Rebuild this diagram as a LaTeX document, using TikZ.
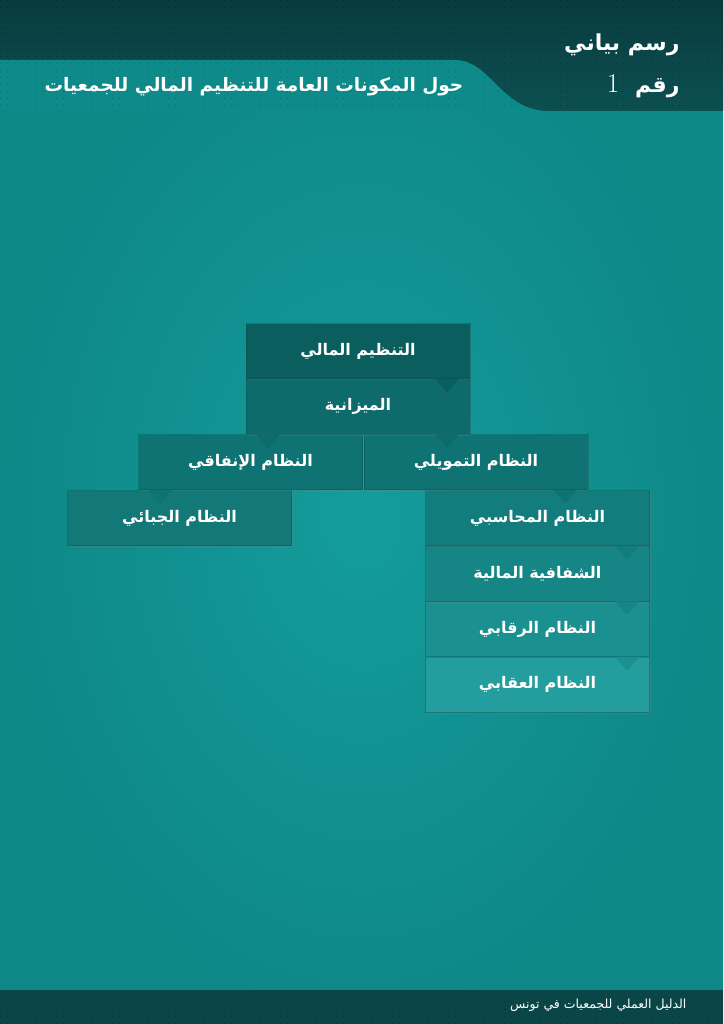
\documentclass[tikz,border=0pt]{standalone}
\usepackage{fontspec}
\newfontfamily\arabicfont[Script=Arabic]{DejaVu Sans}
\TeXXeTstate=1
\usetikzlibrary{patterns,calc,shadows}
\pgfdeclarepatternformonly{sparsedots}{\pgfpointorigin}{\pgfqpoint{7pt}{7pt}}{\pgfqpoint{7pt}{7pt}}{\pgfpathcircle{\pgfqpoint{2pt}{2pt}}{0.7pt}\pgfusepath{fill}}
\definecolor{hdarkA}{HTML}{093B3E}
\definecolor{hdarkB}{HTML}{0C5052}
\definecolor{hlight}{HTML}{0F8A8A}
\definecolor{bodyin}{HTML}{149C9C}
\definecolor{bodyout}{HTML}{0E8787}
\definecolor{foot}{HTML}{0A4648}
\definecolor{cA}{HTML}{0B5E5E}
\definecolor{cB}{HTML}{0E6B6B}
\definecolor{cC}{HTML}{107373}
\definecolor{cD}{HTML}{137878}
\definecolor{cE}{HTML}{137C7C}
\definecolor{cF}{HTML}{168585}
\definecolor{cG}{HTML}{1A9090}
\definecolor{cH}{HTML}{239D9D}
\newcommand{\artxt}[1]{{\arabicfont\bfseries\beginR #1\endR}}
\tikzset{
  box/.style={rectangle, minimum width=224pt, minimum height=55pt, inner sep=0pt,
    draw=black!40!teal, draw opacity=0.35, line width=0.5pt, text=white,
    font=\fontsize{16pt}{19pt}\selectfont,
    drop shadow={shadow xshift=1pt, shadow yshift=-1.5pt, opacity=0.3}},
  hdots/.style={pattern=sparsedots, pattern color=black, opacity=0.22},
}
\newcommand{\ptr}[3]{\fill[#1] ($(#2.south)+(#3-12,0)$) -- ($(#2.south)+(#3+12,0)$) -- ($(#2.south)+(#3,14)$) -- cycle;}
\begin{document}
\begin{tikzpicture}[x=1pt,y=-1pt]
\useasboundingbox (0,0) rectangle (723,1024);
% body
\shade[inner color=bodyin, outer color=bodyout] (0,0) rectangle (723,1024);
% header
\shade[top color=hdarkA, bottom color=hdarkB] (0,0) rectangle (723,111);
\fill[hlight] (0,60) -- (455,60) .. controls (490,60) and (500,108) .. (545,111) -- (0,111) -- cycle;
\fill[hdots] (0,0) rectangle (723,111);
\node[text=white, anchor=east, font=\fontsize{22pt}{26pt}\selectfont] (t1) at (683,45) {\artxt{رسم بياني}};
\node[text=white, anchor=east, font=\fontsize{22pt}{26pt}\selectfont] (t2) at (683,86) {\arabicfont\bfseries\beginR رقم {\rmfamily\mdseries\fontsize{27pt}{30pt}\selectfont\ 1}\endR};
\node[text=white, anchor=east, font=\fontsize{18.5pt}{22pt}\selectfont] (t3) at (467,87) {\artxt{حول المكونات العامة للتنظيم المالي للجمعيات}};
% footer
\fill[foot] (0,990) rectangle (723,1024);
\fill[hdots] (0,990) rectangle (723,1024);
\node[text=white, anchor=east, font=\fontsize{12.5pt}{15pt}\selectfont] (ft) at (690,1005) {\arabicfont\beginR الدليل العملي للجمعيات في تونس\endR};
% boxes
\node[box, fill=cH] (b9) at (537.5,684.5) {\artxt{النظام العقابي}};
\node[box, fill=cG] (b8) at (537.5,629) {\artxt{النظام الرقابي}};
\node[box, fill=cF] (b7) at (537.5,573.5) {\artxt{الشفافية المالية}};
\node[box, fill=cE] (b6) at (537.5,518) {\artxt{النظام المحاسبي}};
\node[box, fill=cD] (b5) at (179.5,518) {\artxt{النظام الجبائي}};
\node[box, fill=cC] (b3) at (476,462) {\artxt{النظام التمويلي}};
\node[box, fill=cC] (b4) at (250.5,462) {\artxt{النظام الإنفاقي}};
\node[box, fill=cB] (b2) at (358,406.5) {\artxt{الميزانية}};
\node[box, fill=cA] (b1) at (358,351) {\artxt{التنظيم المالي}};
% pointers
\ptr{cA}{b1}{89}
\ptr{cB}{b2}{89}
\ptr{cB}{b2}{-90}
\ptr{cC}{b3}{89}
\ptr{cC}{b4}{-90}
\ptr{cE}{b6}{89.5}
\ptr{cF}{b7}{89.5}
\ptr{cG}{b8}{89.5}
\end{tikzpicture}
\end{document}
